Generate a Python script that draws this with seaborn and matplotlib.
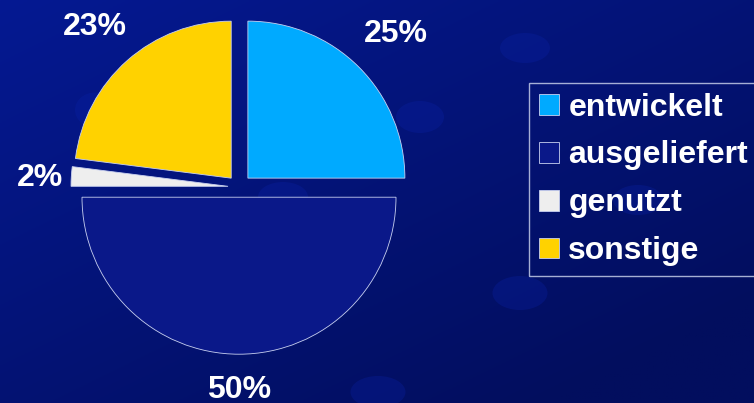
import numpy as np
import matplotlib
matplotlib.use("Agg")
import matplotlib.pyplot as plt
import seaborn as sns
from matplotlib.patches import Ellipse

sns.set_theme(style="white")
plt.rcParams['font.family'] = ['Liberation Sans', 'DejaVu Sans']

categories = ["entwickelt", "ausgeliefert", "genutzt", "sonstige"]
values = [25, 50, 2, 23]
pct_labels = ["25%", "50%", "2%", "23%"]
colors = ["#00AAFF", "#0A1889", "#EEEEEE", "#FFD200"]
explode = [0.08, 0.065, 0.07, 0.075]

W, H = 754, 403
fig = plt.figure(figsize=(W / 100, H / 100), dpi=100)

# background gradient
bg = fig.add_axes([0, 0, 1, 1])
yy, xx = np.mgrid[0:1:200j, 0:1:400j]
t = np.clip(0.55 * xx + 0.6 * yy, 0, 1)
c0 = np.array([0x05, 0x19, 0x92]) / 255
c1 = np.array([0x02, 0x0E, 0x5E]) / 255
img = c0[None, None, :] * (1 - t[..., None]) + c1[None, None, :] * t[..., None]
bg.imshow(img, extent=[0, W, H, 0], aspect='auto')
for (ex, ey, ew, eh) in [(525, 48, 50, 30), (420, 117, 48, 32), (283, 197, 50, 30),
                         (520, 293, 55, 34), (638, 200, 50, 30), (378, 392, 55, 32),
                         (95, 110, 40, 35)]:
    bg.add_patch(Ellipse((ex, ey), ew, eh, color="#0a22a8", alpha=0.3, lw=0))
bg.set_xlim(0, W)
bg.set_ylim(H, 0)
bg.axis('off')

# pie axes, center at (239, 187) px, radius 157 px
R = 157.0
cx, cy = 239.0, 187.0
axw = 520
ax = fig.add_axes([0, 0, axw / W, 1])
ax.patch.set_alpha(0)
wedges, texts = ax.pie(values, colors=colors, explode=explode, startangle=90,
                       counterclock=False,
                       wedgeprops=dict(edgecolor="#c8d0f0", linewidth=0.6))
# percentage labels at individual distances
label_dist = [1.41, 1.265, 1.27, 1.39]
for w, lab, d in zip(wedges, pct_labels, label_dist):
    ang = np.deg2rad((w.theta1 + w.theta2) / 2)
    ax.text(d * np.cos(ang), d * np.sin(ang) - 0.025, lab, ha='center', va='center',
            color='white', fontsize=23, fontweight='bold')
ax.set_aspect('auto')
ax.set_xlim(-cx / R, (axw - cx) / R)
ax.set_ylim(-(H - cy) / R, cy / R)
ax.axis('off')

leg = ax.legend(wedges, categories, loc='upper left',
                bbox_to_anchor=(529 / W, 1 - 83 / H), bbox_transform=fig.transFigure,
                frameon=True, fancybox=False, facecolor='none', edgecolor='#d0d8f0',
                fontsize=23, labelcolor='white', handlelength=0.63, handleheight=0.63,
                handletextpad=0.3, labelspacing=0.56, borderpad=0.3,
                borderaxespad=0)
for t_ in leg.get_texts():
    t_.set_fontweight('bold')
leg.get_frame().set_linewidth(1.0)

fig.savefig("out.png", dpi=100)
